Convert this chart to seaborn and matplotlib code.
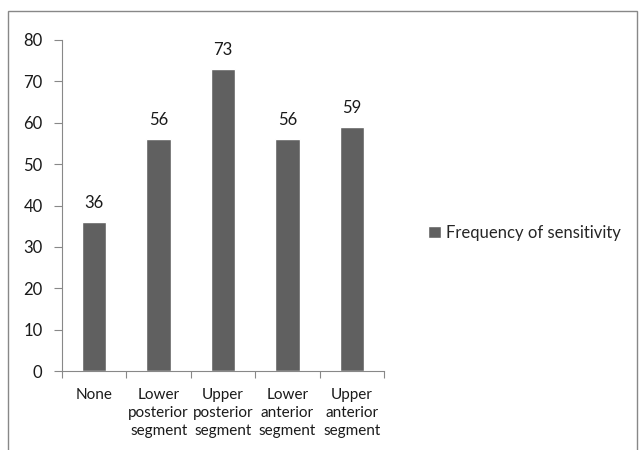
import numpy as np
import pandas as pd
import matplotlib
matplotlib.use("Agg")
import matplotlib.pyplot as plt
from matplotlib.patches import Rectangle
import seaborn as sns

# data
segments = ["None", "Lower\nposterior\nsegment", "Upper\nposterior\nsegment",
            "Lower\nanterior\nsegment", "Upper\nanterior\nsegment"]
frequency = [36, 56, 73, 56, 59]
series_name = "Frequency of sensitivity"
y_ticks = [0, 10, 20, 30, 40, 50, 60, 70, 80]

sns.set_style("white")
plt.rcParams['font.family'] = ['Lato', 'DejaVu Sans']
plt.rcParams['font.size'] = 10.5

df = pd.DataFrame({"segment": segments, "freq": frequency})

fig = plt.figure(figsize=(6.39, 4.5), dpi=100)
ax = fig.add_axes([62 / 639, (450 - 371) / 450, (384 - 62) / 639, (371 - 40) / 450])

sns.barplot(data=df, x="segment", y="freq", color="#606060", width=0.38,
            saturation=1, label=series_name, ax=ax)

for cont in ax.containers:
    ax.bar_label(cont, padding=8, fontsize=12, color="#1a1a1a")

ax.set_ylim(0, 80)
ax.set_xlim(-0.5, 4.5)
ax.set_yticks(y_ticks)
ax.set_xlabel("")
ax.set_ylabel("")

# ticks: y ticks outward, x ticks at category boundaries
ax.set_xticks(range(len(segments)))
ax.set_xticklabels(segments, linespacing=1.38)
ax.set_xticks(np.arange(-0.5, len(segments), 1), minor=True)
ax.tick_params(axis="x", which="major", length=0, pad=12, labelsize=11, colors="#1a1a1a")
ax.tick_params(axis="x", which="minor", length=5, width=0.8, color="#888888", direction="out")
ax.tick_params(axis="y", length=6, width=0.8, color="#888888", direction="out",
               labelsize=12, labelcolor="#1a1a1a", pad=8)
ax.xaxis.set_ticks_position("bottom")
ax.yaxis.set_ticks_position("left")

for side in ["top", "right"]:
    ax.spines[side].set_visible(False)
for side in ["left", "bottom"]:
    ax.spines[side].set_color("#888888")
    ax.spines[side].set_linewidth(0.8)

leg = ax.legend(loc="center left", bbox_to_anchor=(428 / 639, 1 - 233 / 450),
                bbox_transform=fig.transFigure, frameon=False, fontsize=12,
                borderpad=0, borderaxespad=0,
                handlelength=0.75, handleheight=0.75, handletextpad=0.3)

# outer chart border (bottom edge falls outside the image)
fig.patches.append(Rectangle((8 / 639, -0.1), (637 - 8) / 639, 1.1 - 11 / 450,
                             transform=fig.transFigure, fill=False,
                             edgecolor="#888888", linewidth=1.0))

fig.savefig("out.png", dpi=100)
